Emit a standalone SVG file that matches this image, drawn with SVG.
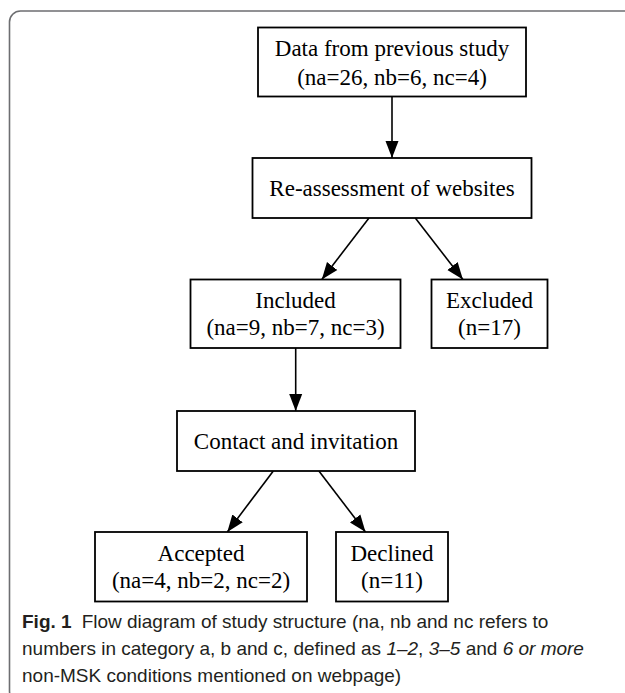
<svg xmlns="http://www.w3.org/2000/svg" width="625" height="693" viewBox="0 0 625 693">
<style>
.box{fill:#fff;stroke:#000;stroke-width:1.8}
.t{font-family:"Liberation Serif","Times New Roman",serif;font-size:23px;fill:#000;text-anchor:middle}
.edge{stroke:#000;stroke-width:1.6;fill:none;marker-end:url(#ah)}
.cap{font-family:"Liberation Sans",Arial,sans-serif;font-size:19px;fill:#231f20}
</style>
<defs>
<marker id="ah" markerUnits="userSpaceOnUse" markerWidth="18" markerHeight="14" refX="17" refY="7" orient="auto" viewBox="0 0 18 14">
<path d="M0,0.5 L17,7 L0,13.5 z" fill="#000"/>
</marker>
</defs>
<rect x="9.5" y="11" width="700" height="691" rx="11" ry="11" fill="#fff" stroke="#6d6e71" stroke-width="1.6"/>
<g id="connectors">
<line class="edge" x1="392" y1="96.5" x2="392" y2="158"/>
<line class="edge" x1="369" y1="218" x2="321.8" y2="279.5"/>
<line class="edge" x1="415.3" y1="218" x2="462.9" y2="279.5"/>
<line class="edge" x1="295.7" y1="348" x2="295.7" y2="411"/>
<line class="edge" x1="273.3" y1="471" x2="227.3" y2="532"/>
<line class="edge" x1="318.9" y1="471" x2="365.5" y2="532"/>
</g>
<g id="n_data">
<rect class="box" x="258" y="27.5" width="268" height="69"/>
<text class="t" x="392" y="56">Data from previous study</text>
<text class="t" x="392" y="85">(na=26, nb=6, nc=4)</text>
</g>
<g id="n_reassess">
<rect class="box" x="252.5" y="158" width="279" height="60"/>
<text class="t" x="392" y="196">Re-assessment of websites</text>
</g>
<g id="n_included">
<rect class="box" x="190.5" y="279.5" width="210" height="68.5"/>
<text class="t" x="295.5" y="307.5">Included</text>
<text class="t" x="295.5" y="335">(na=9, nb=7, nc=3)</text>
</g>
<g id="n_excluded">
<rect class="box" x="431.5" y="279.5" width="116" height="68.5"/>
<text class="t" x="489.5" y="307.5">Excluded</text>
<text class="t" x="489.5" y="335">(n=17)</text>
</g>
<g id="n_contact">
<rect class="box" x="177" y="411" width="238" height="60"/>
<text class="t" x="296" y="448.5">Contact and invitation</text>
</g>
<g id="n_accepted">
<rect class="box" x="95" y="532" width="212" height="69.5"/>
<text class="t" x="201" y="560.5">Accepted</text>
<text class="t" x="201" y="588">(na=4, nb=2, nc=2)</text>
</g>
<g id="n_declined">
<rect class="box" x="336" y="532" width="112" height="69.5"/>
<text class="t" x="392" y="560.5">Declined</text>
<text class="t" x="392" y="588">(n=11)</text>
</g>
<g id="caption">
<text class="cap" x="22" y="628"><tspan font-weight="bold">Fig. 1</tspan><tspan dx="10">Flow diagram of study structure (na, nb and nc refers to</tspan></text>
<text class="cap" x="22" y="655">numbers in category a, b and c, defined as <tspan font-style="italic">1–2</tspan>, <tspan font-style="italic">3–5</tspan> and <tspan font-style="italic">6 or more</tspan></text>
<text class="cap" x="22" y="682">non-MSK conditions mentioned on webpage)</text>
</g>
</svg>
